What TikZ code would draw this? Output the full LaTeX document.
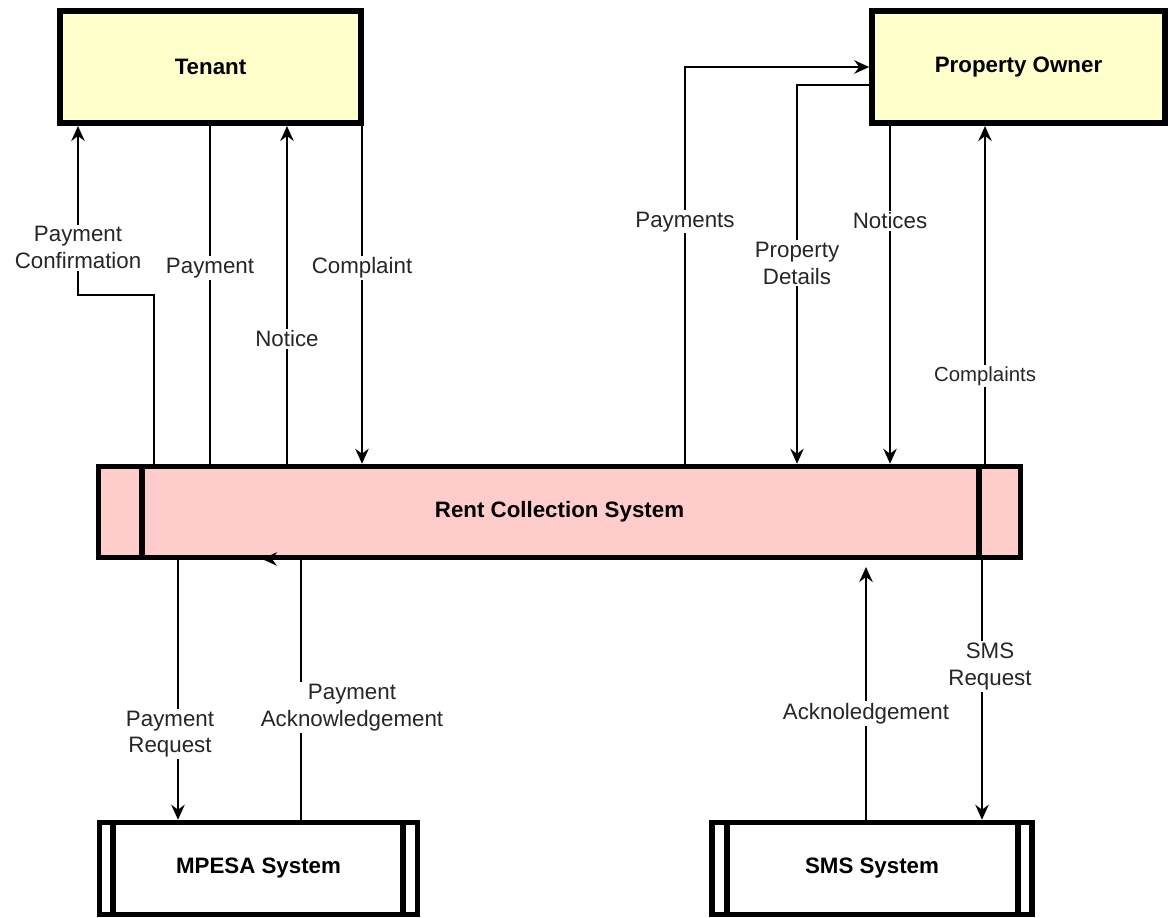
\documentclass[tikz,border=0pt]{standalone}
\usepackage{fontspec}
\setmainfont{Liberation Sans}
\usetikzlibrary{arrows.meta}
\definecolor{entityfill}{HTML}{FFFFCC}
\definecolor{systemfill}{HTML}{FFCCCC}
\tikzset{
  entity/.style={draw, line width=3.2pt, fill=entityfill, font=\fontsize{12.7}{15}\selectfont\bfseries},
  process/.style={draw, line width=3.2pt, fill=systemfill, font=\fontsize{12.7}{15}\selectfont\bfseries},
  external/.style={draw, line width=3.2pt, fill=white, font=\fontsize{12.7}{15}\selectfont\bfseries},
  flow/.style={draw, line width=1.1pt, -{Stealth[length=3mm, width=2.7mm, inset=1mm]}},
  plain/.style={draw, line width=1.1pt},
  lbl/.style={fill=white, align=center, inner sep=1pt, text=black!85, font=\fontsize{12.7}{15.3}\selectfont},
}

\begin{document}
\begin{tikzpicture}[x=0.02cm, y=-0.02cm]
            \useasboundingbox (0,0) rectangle (1176,917);

            \node [entity, minimum width=6.02cm, minimum height=2.25cm] (Tenant) at (210.5,67) {Tenant};
            \node [entity, minimum width=5.86cm, minimum height=2.25cm] (Owner) at (1018.5,67) {Property Owner};
            \node [process, minimum width=18.44cm, minimum height=1.82cm] (RCS) at (559.5,512) {Rent Collection System};
            \node [external, minimum width=6.36cm, minimum height=1.84cm] (MPESA) at (258.5,868.5) {MPESA System};
            \node [external, minimum width=6.4cm, minimum height=1.84cm] (SMS) at (872,868.5) {SMS System};

            % side bars
            \draw [line width=3.2pt] ([xshift=0.92cm]RCS.north west) -- ([xshift=0.92cm]RCS.south west);
            \draw [line width=3.2pt] ([xshift=-0.88cm]RCS.north east) -- ([xshift=-0.88cm]RCS.south east);
            \draw [line width=3.2pt] ([xshift=0.32cm]MPESA.north west) -- ([xshift=0.32cm]MPESA.south west);
            \draw [line width=3.2pt] ([xshift=-0.34cm]MPESA.north east) -- ([xshift=-0.34cm]MPESA.south east);
            \draw [line width=3.2pt] ([xshift=0.35cm]SMS.north west) -- ([xshift=0.35cm]SMS.south west);
            \draw [line width=3.2pt] ([xshift=-0.34cm]SMS.north east) -- ([xshift=-0.34cm]SMS.south east);

            % tenant flows
            \coordinate (pcA) at (154,295);
            \coordinate (pcB) at (78,295);
            \draw [flow] (RCS.north -| pcA) -- (pcA) -- (pcB)
                -- node [lbl, pos=0.28] {Payment\\Confirmation} (pcB |- Tenant.south);
            \coordinate (pay) at (210,0);
            \draw [plain] (Tenant.south -| pay) -- node [lbl, pos=0.42] {Payment} (RCS.north -| pay);
            \coordinate (ntc) at (287,0);
            \draw [flow] (RCS.north -| ntc) -- node [lbl, pos=0.37] {Notice} (Tenant.south -| ntc);
            \coordinate (cmp) at (362,0);
            \draw [flow] (Tenant.south -| cmp) -- node [lbl, pos=0.42] {Complaint} (RCS.north -| cmp);

            % owner flows
            \coordinate (pmA) at (685,67);
            \draw [flow] (RCS.north -| pmA) -- node [lbl, pos=0.61] {Payments} (pmA) -- (pmA -| Owner.west);
            \coordinate (pdA) at (797,85);
            \draw [flow] (pdA -| Owner.west) -- (pdA)
                -- node [lbl, pos=0.47] {Property\\Details} (RCS.north -| pdA);
            \coordinate (ntcs) at (890,0);
            \draw [flow] (Owner.south -| ntcs) -- node [lbl, pos=0.28] {Notices} (RCS.north -| ntcs);
            \coordinate (cmps) at (985,0);
            \draw [flow] (RCS.north -| cmps)
                -- node [lbl, pos=0.26, font=\fontsize{11.6}{14}\selectfont] {Complaints} (Owner.south -| cmps);

            % external systems
            \coordinate (preq) at (178,0);
            \draw [flow] (RCS.south -| preq)
                -- node [lbl, pos=0.67, xshift=-0.16cm] {Payment\\Request} (MPESA.north -| preq);
            \coordinate (packA) at (301,559);
            \coordinate (packB) at (262,559);
            \draw [flow] (MPESA.north -| packA)
                -- node [lbl, pos=0.43, xshift=1.02cm] {Payment\\Acknowledgement} (packA) -- (packB);
            \coordinate (ack) at (866,567);
            \draw [flow] (SMS.north -| ack) -- node [lbl, pos=0.42] {Acknoledgement} (ack);
            \coordinate (smsr) at (982,0);
            \draw [flow] (RCS.south -| smsr)
                -- node [lbl, pos=0.41, xshift=0.16cm] {SMS\\Request} (SMS.north -| smsr);
\end{tikzpicture}
\end{document}
